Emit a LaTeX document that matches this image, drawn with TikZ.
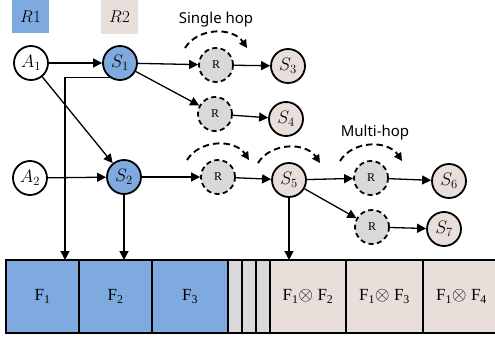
\RequirePackage{fix-cm}
\documentclass[tikz,border=0pt]{standalone}
\usepackage{fontspec}
\setmainfont{Liberation Serif}
\newfontfamily\hopfont{Noto Sans}
\usetikzlibrary{arrows.meta,calc}
\definecolor{bluef}{RGB}{127,170,224}
\definecolor{beigef}{RGB}{232,223,218}
\definecolor{grayf}{RGB}{217,217,217}
\newcommand{\otm}{{\fontsize{19}{19}\selectfont$\otimes$}}
\begin{document}
\begin{tikzpicture}[x=1pt,y=-1pt,
  circ/.style={circle,draw,line width=1.8pt,minimum size=34pt,inner sep=0pt,font=\fontsize{18}{18}\selectfont},
  anode/.style={circ,fill=white},
  bnode/.style={circ,fill=bluef},
  enode/.style={circ,fill=beigef},
  rnode/.style={circ,fill=grayf,dash pattern=on 5pt off 3.5pt,font=\fontsize{12}{12}\selectfont},
  arr/.style={line width=1.3pt,-{Triangle[length=9pt,width=9pt]}},
  hoparc/.style={line width=1.9pt,dash pattern=on 6.5pt off 4pt,-{Triangle[length=8pt,width=8pt]}},
  cell/.style={draw,line width=2pt,anchor=north west,minimum height=73pt,inner sep=0pt,outer sep=0pt,font=\fontsize{17}{17}\selectfont},
  lbl/.style={minimum width=37pt,minimum height=34pt,inner sep=0pt,font=\fontsize{17}{17}\selectfont},
  hoptext/.style={font=\hopfont\fontsize{15}{17}\selectfont}
]
\useasboundingbox (0,0) rectangle (495,342);
\clip (0,0) rectangle (495,342);

% legend
\node[lbl,fill=bluef] (r1) at (30.5,16.5) {$R1$};
\node[lbl,fill=beigef] (r2) at (119.5,17) {$R2$};
\node[hoptext] (single) at (216,20) {Single hop};
\node[hoptext] (multi) at (375,133) {Multi-hop};

% bar
\node[cell,fill=bluef,minimum width=73pt] (F1) at (6,260) {F\textsubscript{1}};
\node[cell,fill=bluef,minimum width=73pt] (F2) at (79,260) {F\textsubscript{2}};
\node[cell,fill=bluef,minimum width=76pt] (F3) at (152,260) {F\textsubscript{3}};
\node[cell,fill=grayf,minimum width=14pt] (G1) at (228,260) {};
\node[cell,fill=grayf,minimum width=14pt] (G2) at (242,260) {};
\node[cell,fill=grayf,minimum width=14pt] (G3) at (256,260) {};
\node[cell,fill=beigef,minimum width=76pt] (F12) at (270,260) {F\textsubscript{1}\otm{} F\textsubscript{2}};
\node[cell,fill=beigef,minimum width=77pt] (F13) at (346,260) {F\textsubscript{1}\otm{} F\textsubscript{3}};
\node[cell,fill=beigef,minimum width=77pt] (F14) at (423,260) {F\textsubscript{1}\otm{} F\textsubscript{4}};

% nodes
\node[anode] (A1) at (31,63) {$A_1$};
\node[bnode] (S1) at (120,63) {$S_1$};
\node[rnode] (Ra) at (216,65) {R};
\node[enode] (S3) at (288,66) {$S_3$};
\node[rnode] (Rb) at (215,114) {R};
\node[enode] (S4) at (286,119) {$S_4$};
\node[anode] (A2) at (30,178) {$A_2$};
\node[bnode] (S2) at (124,177) {$S_2$};
\node[rnode] (Rc) at (218,177) {R};
\node[enode] (S5) at (289,180) {$S_5$};
\node[rnode] (Rd) at (371,178) {R};
\node[enode] (S6) at (449,181) {$S_6$};
\node[rnode] (Re) at (372,227) {R};
\node[enode] (S7) at (444,229) {$S_7$};

\coordinate (f1in) at (65,260);

% connectors
\draw[arr] (A1) -- (S1);
\draw[arr] (A1) -- (S2);
\draw[arr] (S1) -- (Ra);
\draw[arr] (S1) -- (Rb);
\draw[arr] (Ra) -- (S3);
\draw[arr] (Rb) -- (S4);
\draw[arr] (S1.236) -| (f1in);
\draw[arr] (A2) -- (S2);
\draw[arr] (S2) -- (S2 |- F2.north);
\draw[arr] (S2) -- (Rc);
\draw[arr] (Rc) -- (S5);
\draw[arr] (S5) -- (Rd);
\draw[arr] (S5) -- (Re);
\draw[arr] (Rd) -- (S6);
\draw[arr] (Re) -- (S7);
\draw[arr] (S5) -- (S5 |- F12.north);

% hop arcs
\foreach \n in {Ra,Rc,S5,Rd}
  \draw[hoparc] ($(\n)+(-31,-17)$) .. controls ($(\n)+(-18,-38)$) and ($(\n)+(17,-38)$) .. ($(\n)+(31,-17)$);
\end{tikzpicture}
\end{document}
